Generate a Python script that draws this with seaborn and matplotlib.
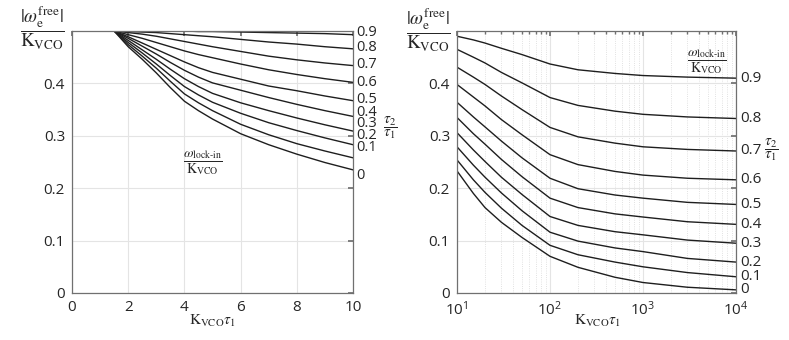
import numpy as np
import pandas as pd
import seaborn as sns
import matplotlib.pyplot as plt

# tau2 / tau1 ratios (one curve each)
ratios = [0.0, 0.1, 0.2, 0.3, 0.4, 0.5, 0.6, 0.7, 0.8, 0.9]

# left panel: linear K_VCO*tau1
k_lin = [0, 1.5, 2, 2.5, 3, 3.5, 4, 4.5, 5, 6, 7, 8, 9, 10]
w_lin = [
    [0.5, 0.5, 0.470, 0.446, 0.420, 0.392, 0.366, 0.348, 0.332, 0.304, 0.283, 0.265, 0.249, 0.235],
    [0.5, 0.5, 0.474, 0.452, 0.429, 0.404, 0.380, 0.363, 0.348, 0.322, 0.302, 0.285, 0.271, 0.258],
    [0.5, 0.5, 0.478, 0.458, 0.437, 0.415, 0.394, 0.378, 0.364, 0.343, 0.325, 0.310, 0.296, 0.283],
    [0.5, 0.5, 0.482, 0.464, 0.446, 0.427, 0.409, 0.394, 0.381, 0.363, 0.348, 0.334, 0.321, 0.309],
    [0.5, 0.5, 0.486, 0.471, 0.456, 0.440, 0.425, 0.412, 0.401, 0.387, 0.373, 0.360, 0.348, 0.337],
    [0.5, 0.5, 0.489, 0.477, 0.465, 0.453, 0.441, 0.430, 0.421, 0.408, 0.395, 0.386, 0.376, 0.367],
    [0.5, 0.5, 0.493, 0.486, 0.478, 0.470, 0.462, 0.455, 0.449, 0.437, 0.426, 0.417, 0.409, 0.402],
    [0.5, 0.5, 0.497, 0.494, 0.490, 0.485, 0.480, 0.475, 0.470, 0.461, 0.452, 0.445, 0.439, 0.434],
    [0.5, 0.5, 0.499, 0.498, 0.497, 0.495, 0.493, 0.491, 0.489, 0.484, 0.479, 0.475, 0.470, 0.466],
    [0.5, 0.5, 0.500, 0.500, 0.500, 0.500, 0.500, 0.499, 0.499, 0.498, 0.497, 0.496, 0.495, 0.493],
]

# right panel: log K_VCO*tau1
k_log = [10, 15, 20, 30, 50, 100, 200, 500, 1000, 3000, 10000]
w_log = [
    [0.233, 0.190, 0.163, 0.135, 0.106, 0.070, 0.049, 0.030, 0.020, 0.011, 0.006],
    [0.254, 0.216, 0.192, 0.162, 0.129, 0.091, 0.073, 0.059, 0.050, 0.039, 0.031],
    [0.279, 0.244, 0.221, 0.191, 0.157, 0.116, 0.099, 0.086, 0.079, 0.066, 0.059],
    [0.306, 0.273, 0.251, 0.221, 0.188, 0.146, 0.129, 0.117, 0.111, 0.101, 0.095],
    [0.335, 0.304, 0.284, 0.255, 0.222, 0.181, 0.163, 0.151, 0.145, 0.136, 0.131],
    [0.364, 0.336, 0.317, 0.290, 0.258, 0.219, 0.199, 0.187, 0.181, 0.173, 0.169],
    [0.398, 0.374, 0.357, 0.331, 0.302, 0.264, 0.245, 0.232, 0.225, 0.219, 0.216],
    [0.431, 0.412, 0.398, 0.376, 0.350, 0.316, 0.298, 0.286, 0.279, 0.274, 0.271],
    [0.465, 0.450, 0.439, 0.421, 0.401, 0.373, 0.358, 0.347, 0.341, 0.336, 0.333],
    [0.490, 0.483, 0.477, 0.467, 0.455, 0.437, 0.426, 0.419, 0.415, 0.412, 0.410],
]

ratio_labels = ['0', '0.1', '0.2', '0.3', '0.4', '0.5', '0.6', '0.7', '0.8', '0.9']
# where the ratio labels sit on the right of the left panel (spread out a bit)
left_label_y = [0.225, 0.277, 0.300, 0.323, 0.345, 0.370, 0.401, 0.437, 0.468, 0.498]


def long_form(xs, table):
    rows = []
    for r, ys in zip(ratios, table):
        for x, y in zip(xs, ys):
            rows.append({'k': x, 'w': y, 'ratio': r})
    return pd.DataFrame(rows)


df_lin = long_form(k_lin, w_lin)
df_log = long_form(k_log, w_log)

sns.set_theme(style='white')
plt.rcParams['font.family'] = ['Open Sans', 'DejaVu Sans']
plt.rcParams['mathtext.fontset'] = 'stix'

W, H = 789, 340
fig = plt.figure(figsize=(W / 100, H / 100), dpi=100)
ax1 = fig.add_axes([72 / W, 1 - 293 / H, 281 / W, 262 / H])
ax2 = fig.add_axes([457 / W, 1 - 293 / H, 279 / W, 262 / H])

line_col = '#1e1e1e'
frame_col = '#707070'
text_col = '#262626'

sns.lineplot(data=df_lin, x='k', y='w', units='ratio', estimator=None,
             color=line_col, lw=1.0, ax=ax1, sort=False)
sns.lineplot(data=df_log, x='k', y='w', units='ratio', estimator=None,
             color=line_col, lw=1.0, ax=ax2, sort=False)

ax2.set_xscale('log')
ax1.set_xlim(0, 10)
ax2.set_xlim(10, 1e4)
for ax in (ax1, ax2):
    ax.set_ylim(0, 0.5)
    ax.set_yticks([0, 0.1, 0.2, 0.3, 0.4])
    ax.set_yticklabels(['0', '0.1', '0.2', '0.3', '0.4'])
    ax.set_xlabel('')
    ax.set_ylabel('')
    for s in ax.spines.values():
        s.set_color(frame_col)
        s.set_linewidth(0.9)
    ax.tick_params(which='both', direction='in', top=True, right=True,
                   color=frame_col, labelsize=11, labelcolor=text_col)
    ax.tick_params(which='major', length=3.5, pad=5)
    ax.tick_params(which='minor', length=2)
    ax.grid(True, which='major', color='#e4e4e4', lw=0.8)
    ax.set_axisbelow(True)

ax1.set_xticks([0, 2, 4, 6, 8, 10])
ax2.set_xticks([10, 100, 1000, 10000])
ax2.grid(True, which='minor', axis='x', color='#d8d8d8', lw=0.6, ls=':')

# ratio labels on the right
for y, lab in zip(left_label_y, ratio_labels):
    ax1.text(10.12, y, lab, ha='left', va='center', fontsize=10.5, color=text_col)
for ys, lab in zip(w_log, ratio_labels):
    ax2.text(1.12e4, ys[-1], lab, ha='left', va='center', fontsize=11, color=text_col)


def ftext(x, y, s, size):
    fig.text(x / W, 1 - y / H, s, ha='center', va='center', fontsize=size, color=text_col)


ylab = r'$\dfrac{|\omega_{\mathrm{e}}^{\mathrm{free}}|}{\mathrm{K}_{\mathrm{VCO}}}$'
lock = r'$\dfrac{\omega_{\mathrm{lock\text{-}in}}}{\mathrm{K}_{\mathrm{VCO}}}$'
tau = r'$\dfrac{\tau_2}{\tau_1}$'
xlab = r'$\mathrm{K}_{\mathrm{VCO}}\tau_1$'

ftext(42, 28, ylab, 13.5)
ftext(428, 30, ylab, 13.5)
ftext(203, 163, lock, 10)
ftext(707, 62, lock, 10)
ftext(390, 128, tau, 11)
ftext(771, 150, tau, 11)
ftext(212, 321, xlab, 11)
ftext(597, 321, xlab, 11)

fig.savefig('out.png', dpi=100)
